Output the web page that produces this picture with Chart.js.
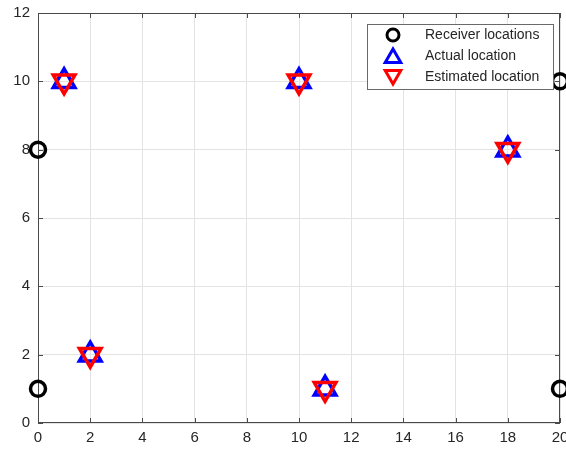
<!DOCTYPE html>
<html>
<head>
<meta charset="utf-8">
<script src="https://cdn.jsdelivr.net/npm/chart.js@4.4.0/dist/chart.umd.min.js"></script>
<style>
  html, body { margin: 0; padding: 0; background: #fff; overflow: hidden; width: 566px; height: 452px; }
  #wrap { width: 580px; height: 455px; margin-top: -3px; }
</style>
</head>
<body>
<div id="wrap"><canvas id="c" width="580" height="455"></canvas></div>
<script>
// Source localisation result: receivers, true and estimated emitter positions.
const receiverX = [0, 0, 20, 20];
const receiverY = [1, 8, 1, 10];
const actualX = [1, 2, 10, 11, 18];
const actualY = [10, 2, 10, 1, 8];
const estimatedX = [1, 2, 10, 11, 18];
const estimatedY = [10, 2, 10, 1, 8];
const xTicks = [0, 2, 4, 6, 8, 10, 12, 14, 16, 18, 20];
const yTicks = [0, 2, 4, 6, 8, 10, 12];

const toPts = (xs, ys) => xs.map((x, i) => ({ x, y: ys[i] }));
const AXIS = '#262626';
const FONT = '"Liberation Sans", Arial, sans-serif';

// MATLAB-style box with inward ticks, drawn over the grid
const boxPlugin = {
  id: 'box',
  beforeDatasetsDraw(chart) {
    const { ctx, chartArea: a, scales: { x, y } } = chart;
    ctx.save();
    ctx.strokeStyle = '#4a4a4a';
    ctx.lineWidth = 1;
    ctx.strokeRect(a.left + 0.5, a.top + 0.5, a.right - a.left - 1, a.bottom - a.top - 1);
    ctx.beginPath();
    xTicks.forEach(v => {
      const px = Math.round(x.getPixelForValue(v)) + 0.5;
      ctx.moveTo(px, a.bottom); ctx.lineTo(px, a.bottom - 5);
      ctx.moveTo(px, a.top); ctx.lineTo(px, a.top + 5);
    });
    yTicks.forEach(v => {
      const py = Math.round(y.getPixelForValue(v)) + 0.5;
      ctx.moveTo(a.left, py); ctx.lineTo(a.left + 5, py);
      ctx.moveTo(a.right, py); ctx.lineTo(a.right - 5, py);
    });
    ctx.stroke();
    ctx.restore();
  }
};

// legend box in the top-right corner, same look as MATLAB's 'northeast'
const legendPlugin = {
  id: 'boxLegend',
  afterDraw(chart) {
    const { ctx } = chart;
    const x0 = 367, y0 = 27, w = 186, h = 65;
    ctx.save();
    ctx.fillStyle = '#fff';
    ctx.fillRect(x0, y0, w, h);
    ctx.strokeStyle = '#6a6a6a';
    ctx.lineWidth = 1;
    ctx.strokeRect(x0 + 0.5, y0 + 0.5, w, h);
    chart.data.datasets.forEach((ds, i) => {
      const cy = y0 + 11 + i * 21;
      ctx.strokeStyle = ds.borderColor;
      ctx.fillStyle = 'rgba(0,0,0,0)';
      ctx.lineWidth = 3;
      const r = ds.pointStyle === 'circle' ? 6 : 9;
      Chart.helpers.drawPoint(ctx, { pointStyle: ds.pointStyle, radius: r, rotation: ds.rotation || 0, borderWidth: 3 }, 393, cy + (ds.rotation ? -2 : ds.pointStyle === 'triangle' ? 2 : 0));
      ctx.fillStyle = AXIS;
      ctx.font = '14px ' + FONT;
      ctx.textBaseline = 'middle';
      ctx.fillText(ds.label, 425, cy);
    });
    ctx.restore();
  }
};

new Chart(document.getElementById('c'), {
  type: 'scatter',
  data: {
    datasets: [
      { label: 'Receiver locations', data: toPts(receiverX, receiverY), pointStyle: 'circle', pointRadius: 7.5, borderColor: '#000000', backgroundColor: 'rgba(0,0,0,0)', borderWidth: 3.5, order: 3, clip: false },
      { label: 'Actual location', data: toPts(actualX, actualY), pointStyle: 'triangle', pointRadius: 12.5, borderColor: '#0000ff', backgroundColor: 'rgba(0,0,0,0)', borderWidth: 3.5, order: 2, clip: false },
      { label: 'Estimated location', data: toPts(estimatedX, estimatedY), pointStyle: 'triangle', rotation: 180, pointRadius: 12.5, borderColor: '#ff0000', backgroundColor: 'rgba(0,0,0,0)', borderWidth: 3.5, order: 1, clip: false },
    ],
  },
  options: {
    responsive: false,
    animation: false,
    devicePixelRatio: 1,
    layout: { padding: { top: 13, right: 20, left: 0, bottom: 0 } },
    plugins: { legend: { display: false }, tooltip: { enabled: false } },
    scales: {
      x: {
        type: 'linear', min: 0, max: 20,
        afterBuildTicks: s => { s.ticks = xTicks.map(v => ({ value: v })); },
        afterFit: s => { s.height = 29; s.paddingLeft = 0; s.paddingRight = 0; },
        ticks: { color: AXIS, font: { family: FONT, size: 15 }, padding: 6 },
        grid: { color: '#e3e3e3', drawTicks: false },
        border: { display: false },
      },
      y: {
        type: 'linear', min: 0, max: 12,
        afterBuildTicks: s => { s.ticks = yTicks.map(v => ({ value: v })); },
        afterFit: s => { s.width = 38; s.paddingTop = 0; s.paddingBottom = 0; },
        ticks: { color: AXIS, font: { family: FONT, size: 15 }, padding: 8 },
        grid: { color: '#e3e3e3', drawTicks: false },
        border: { display: false },
      },
    },
  },
  plugins: [boxPlugin, legendPlugin],
});
</script>
</body>
</html>
